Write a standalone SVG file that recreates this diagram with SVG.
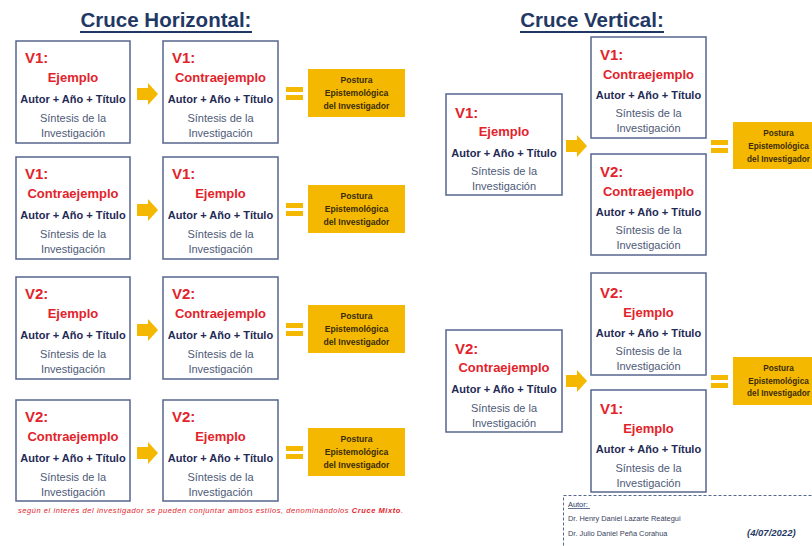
<svg xmlns="http://www.w3.org/2000/svg" xmlns:xlink="http://www.w3.org/1999/xlink" width="812" height="546" viewBox="0 0 812 546">
<style>
text{font-family:"Liberation Sans",Arial,sans-serif}
.title{font-size:20.5px;font-weight:bold;fill:#1f3864;text-anchor:middle}
.box{fill:#fff;stroke:#56668c;stroke-width:1.5}
.v{font-size:15px;font-weight:bold;fill:#e3232b}
.k{font-size:13px;font-weight:bold;fill:#e3232b;text-anchor:middle}
.a{font-size:11px;font-weight:bold;fill:#1f2a55;text-anchor:middle}
.s{font-size:11px;fill:#4d5a78;text-anchor:middle}
.yb{fill:#f5b800}
.yt{font-size:8.6px;font-weight:bold;fill:#3a2c08;text-anchor:middle}
.yr{font-size:8.2px}
.arr{fill:#f5b800}
.note{font-size:7.5px;font-style:italic;fill:#e3232b}
.au{font-size:7.4px;fill:#38425e}
</style>
<defs>
<path id="arrow" d="M0,5 H11 V0 L21,11 L11,22 V17 H0 Z"/>
<g id="eq"><rect x="0" y="0" width="17" height="5"/><rect x="0" y="8" width="17" height="5"/></g>
</defs>
<rect width="812" height="546" fill="#fff"/>

<g id="titles">
<text class="title" x="166" y="27">Cruce Horizontal:</text>
<line x1="80" y1="32" x2="252" y2="32" stroke="#1f3864" stroke-width="1.8"/>
<text class="title" x="592" y="27">Cruce Vertical:</text>
<line x1="520" y1="32" x2="664" y2="32" stroke="#1f3864" stroke-width="1.8"/>
</g>

<!-- Horizontal row 1 -->
<g id="h1a" transform="translate(16,41)"><rect class="box" width="114" height="102"/><text class="v" x="9" y="22">V1:</text><text class="k" x="57" y="41">Ejemplo</text><text class="a" x="57" y="62">Autor + Año + Título</text><text class="s" x="57" y="81">Síntesis de la</text><text class="s" x="57" y="96">Investigación</text></g>
<g id="h1b" transform="translate(163,41)"><rect class="box" width="115" height="102"/><text class="v" x="9" y="22">V1:</text><text class="k" x="57.5" y="41">Contraejemplo</text><text class="a" x="57.5" y="62">Autor + Año + Título</text><text class="s" x="57.5" y="81">Síntesis de la</text><text class="s" x="57.5" y="96">Investigación</text></g>
<g id="h1c" transform="translate(308,69)"><rect class="yb" width="97" height="48"/><text class="yt" x="48.5" y="14">Postura</text><text class="yt" x="48.5" y="27">Epistemológica</text><text class="yt" x="48.5" y="40">del Investigador</text></g>

<!-- Horizontal row 2 -->
<g id="h2a" transform="translate(16,157)"><rect class="box" width="114" height="102"/><text class="v" x="9" y="22">V1:</text><text class="k" x="57" y="41">Contraejemplo</text><text class="a" x="57" y="62">Autor + Año + Título</text><text class="s" x="57" y="81">Síntesis de la</text><text class="s" x="57" y="96">Investigación</text></g>
<g id="h2b" transform="translate(163,157)"><rect class="box" width="115" height="102"/><text class="v" x="9" y="22">V1:</text><text class="k" x="57.5" y="41">Ejemplo</text><text class="a" x="57.5" y="62">Autor + Año + Título</text><text class="s" x="57.5" y="81">Síntesis de la</text><text class="s" x="57.5" y="96">Investigación</text></g>
<g id="h2c" transform="translate(308,185)"><rect class="yb" width="97" height="48"/><text class="yt" x="48.5" y="14">Postura</text><text class="yt" x="48.5" y="27">Epistemológica</text><text class="yt" x="48.5" y="40">del Investigador</text></g>

<!-- Horizontal row 3 -->
<g id="h3a" transform="translate(16,277)"><rect class="box" width="114" height="102"/><text class="v" x="9" y="22">V2:</text><text class="k" x="57" y="41">Ejemplo</text><text class="a" x="57" y="62">Autor + Año + Título</text><text class="s" x="57" y="81">Síntesis de la</text><text class="s" x="57" y="96">Investigación</text></g>
<g id="h3b" transform="translate(163,277)"><rect class="box" width="115" height="102"/><text class="v" x="9" y="22">V2:</text><text class="k" x="57.5" y="41">Contraejemplo</text><text class="a" x="57.5" y="62">Autor + Año + Título</text><text class="s" x="57.5" y="81">Síntesis de la</text><text class="s" x="57.5" y="96">Investigación</text></g>
<g id="h3c" transform="translate(308,305)"><rect class="yb" width="97" height="48"/><text class="yt" x="48.5" y="14">Postura</text><text class="yt" x="48.5" y="27">Epistemológica</text><text class="yt" x="48.5" y="40">del Investigador</text></g>

<!-- Horizontal row 4 -->
<g id="h4a" transform="translate(16,400)"><rect class="box" width="114" height="101"/><text class="v" x="9" y="22">V2:</text><text class="k" x="57" y="41">Contraejemplo</text><text class="a" x="57" y="62">Autor + Año + Título</text><text class="s" x="57" y="81">Síntesis de la</text><text class="s" x="57" y="96">Investigación</text></g>
<g id="h4b" transform="translate(163,400)"><rect class="box" width="115" height="101"/><text class="v" x="9" y="22">V2:</text><text class="k" x="57.5" y="41">Ejemplo</text><text class="a" x="57.5" y="62">Autor + Año + Título</text><text class="s" x="57.5" y="81">Síntesis de la</text><text class="s" x="57.5" y="96">Investigación</text></g>
<g id="h4c" transform="translate(308,428)"><rect class="yb" width="97" height="48"/><text class="yt" x="48.5" y="14">Postura</text><text class="yt" x="48.5" y="27">Epistemológica</text><text class="yt" x="48.5" y="40">del Investigador</text></g>

<!-- Vertical group 1 -->
<g id="v1a" transform="translate(446,94)"><rect class="box" width="116" height="101"/><text class="v" x="9" y="24">V1:</text><text class="k" x="58" y="42">Ejemplo</text><text class="a" x="58" y="63">Autor + Año + Título</text><text class="s" x="58" y="81">Síntesis de la</text><text class="s" x="58" y="96">Investigación</text></g>
<g id="v1b" transform="translate(591,37)"><rect class="box" width="115" height="101"/><text class="v" x="9" y="23">V1:</text><text class="k" x="57.5" y="42">Contraejemplo</text><text class="a" x="57.5" y="62">Autor + Año + Título</text><text class="s" x="57.5" y="80">Síntesis de la</text><text class="s" x="57.5" y="95">Investigación</text></g>
<g id="v1c" transform="translate(591,154)"><rect class="box" width="115" height="101"/><text class="v" x="9" y="23">V2:</text><text class="k" x="57.5" y="42">Contraejemplo</text><text class="a" x="57.5" y="62">Autor + Año + Título</text><text class="s" x="57.5" y="80">Síntesis de la</text><text class="s" x="57.5" y="95">Investigación</text></g>
<g id="v1d" transform="translate(733,122)"><rect class="yb" width="98" height="47"/><text class="yt yr" x="45.5" y="14">Postura</text><text class="yt yr" x="45.5" y="27">Epistemológica</text><text class="yt yr" x="45.5" y="40">del Investigador</text></g>

<!-- Vertical group 2 -->
<g id="v2a" transform="translate(446,330)"><rect class="box" width="116" height="102"/><text class="v" x="9" y="24">V2:</text><text class="k" x="58" y="42">Contraejemplo</text><text class="a" x="58" y="63">Autor + Año + Título</text><text class="s" x="58" y="82">Síntesis de la</text><text class="s" x="58" y="97">Investigación</text></g>
<g id="v2b" transform="translate(591,273)"><rect class="box" width="115" height="102"/><text class="v" x="9" y="25">V2:</text><text class="k" x="57.5" y="44">Ejemplo</text><text class="a" x="57.5" y="64">Autor + Año + Título</text><text class="s" x="57.5" y="82">Síntesis de la</text><text class="s" x="57.5" y="97">Investigación</text></g>
<g id="v2c" transform="translate(591,390)"><rect class="box" width="115" height="102"/><text class="v" x="9" y="24">V1:</text><text class="k" x="57.5" y="43">Ejemplo</text><text class="a" x="57.5" y="63">Autor + Año + Título</text><text class="s" x="57.5" y="82">Síntesis de la</text><text class="s" x="57.5" y="97">Investigación</text></g>
<g id="v2d" transform="translate(733,357)"><rect class="yb" width="98" height="48"/><text class="yt yr" x="45.5" y="14">Postura</text><text class="yt yr" x="45.5" y="27">Epistemológica</text><text class="yt yr" x="45.5" y="39">del Investigador</text></g>

<g id="connectors" class="arr">
<use xlink:href="#arrow" transform="translate(137,83)"/>
<use xlink:href="#arrow" transform="translate(137,199)"/>
<use xlink:href="#arrow" transform="translate(137,319)"/>
<use xlink:href="#arrow" transform="translate(137,442)"/>
<use xlink:href="#eq" transform="translate(286,87)"/>
<use xlink:href="#eq" transform="translate(286,203)"/>
<use xlink:href="#eq" transform="translate(286,323)"/>
<use xlink:href="#eq" transform="translate(286,446)"/>
<use xlink:href="#arrow" transform="translate(566,135)"/>
<use xlink:href="#arrow" transform="translate(566,370)"/>
<use xlink:href="#eq" transform="translate(711,140)"/>
<use xlink:href="#eq" transform="translate(711,375)"/>
</g>

<g id="note">
<text class="note" x="18" y="513" textLength="385" lengthAdjust="spacing">según el interés del investigador se pueden conjuntar ambos estilos, denominándolos <tspan font-weight="bold">Cruce Mixto</tspan>.</text>
</g>

<g id="author">
<rect x="563.5" y="495.5" width="270" height="60" fill="none" stroke="#56668c" stroke-width="1" stroke-dasharray="3,2"/>
<text class="au" x="568" y="507" style="fill:#1f3864">Autor:</text>
<line x1="568" y1="508.5" x2="590" y2="508.5" stroke="#1f3864" stroke-width="0.7"/>
<text class="au" x="568" y="521">Dr. Henry Daniel Lazarte Reátegui</text>
<text class="au" x="568" y="536">Dr. Julio Daniel Peña Corahua</text>
<text x="747" y="536" font-size="9.5" font-weight="bold" font-style="italic" fill="#1f3864">(4/07/2022)</text>
</g>
</svg>
